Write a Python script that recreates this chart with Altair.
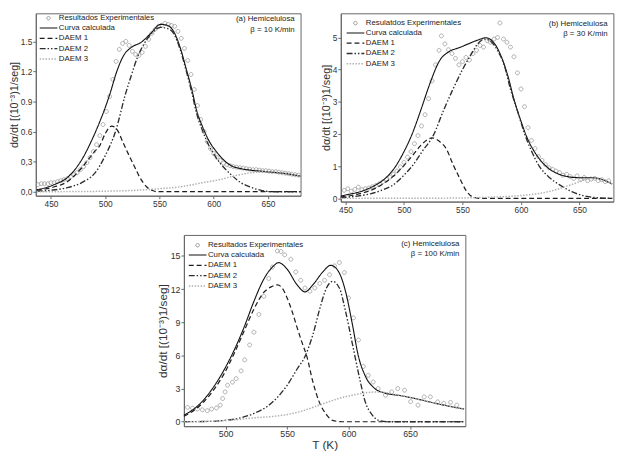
import altair as alt
import pandas as pd

FONT = "Liberation Sans"
Y_TITLE = "dα/dt [(10⁻³)1/seg]"

NAMES_A = ["Resultados Experimentales", "Curva calculada", "DAEM 1", "DAEM 2", "DAEM 3"]
NAMES_B = ["Resulatdos Experimentales", "Curva calculada", "DAEM 1", "DAEM 2", "DAEM 3"]
NAMES_C = ["Resultados Experimentales", "Curva calculada", "DAEM 1", "DAEM 2", "DAEM 3"]

# ---------------- panel (a) beta = 10 K/min ----------------
A_EXP_T = [438, 441, 444, 447, 450, 453, 456, 459, 462, 465, 468, 471, 474, 477, 480, 483, 486, 489, 492, 495,
           498, 501, 504, 507, 510, 513, 516, 519, 522, 525, 528, 531, 534, 537, 540, 543, 546, 549, 552, 555,
           558, 561, 564, 567, 570, 573, 576, 579, 582, 585, 588, 591, 594, 597, 600, 603, 606, 609, 612, 615,
           618, 621, 624, 627, 630, 633, 636, 639, 642, 645, 648, 651, 654, 657, 660, 663, 666, 669, 672, 675, 678]
A_EXP_V = [0.07, 0.08, 0.08, 0.08, 0.09, 0.09, 0.10, 0.11, 0.12, 0.13, 0.15, 0.17, 0.19, 0.22, 0.25, 0.29, 0.34, 0.40, 0.47, 0.56,
           0.67, 0.80, 0.95, 1.12, 1.30, 1.42, 1.48, 1.50, 1.46, 1.40, 1.37, 1.36, 1.39, 1.45, 1.52, 1.58, 1.62, 1.65, 1.66, 1.68,
           1.67, 1.66, 1.65, 1.60, 1.53, 1.43, 1.31, 1.17, 1.02, 0.86, 0.72, 0.60, 0.50, 0.43, 0.38, 0.34, 0.31, 0.285, 0.27, 0.26,
           0.25, 0.245, 0.24, 0.235, 0.23, 0.225, 0.22, 0.22, 0.215, 0.21, 0.21, 0.205, 0.20, 0.20, 0.195, 0.19, 0.185, 0.18, 0.175, 0.17, 0.165]
A_CALC_T = [437, 445, 455, 465, 472, 480, 487, 495, 500, 505, 510, 517, 524, 533, 542, 551, 557, 563, 569, 575,
            580, 584, 590, 596, 601, 607, 616, 625, 634, 648, 663, 680]
A_CALC_V = [0.02, 0.04, 0.08, 0.14, 0.22, 0.35, 0.50, 0.70, 0.84, 1.00, 1.18, 1.36, 1.44, 1.49, 1.58, 1.67, 1.66, 1.60, 1.44, 1.21,
            1.01, 0.82, 0.64, 0.50, 0.42, 0.34, 0.26, 0.23, 0.215, 0.20, 0.185, 0.155]
A_D1_T = [437, 450, 465, 480, 490, 495, 500, 506, 512, 516, 522, 527, 532, 538, 543, 548, 560, 680]
A_D1_V = [0.015, 0.04, 0.10, 0.26, 0.40, 0.46, 0.58, 0.655, 0.60, 0.50, 0.36, 0.25, 0.14, 0.05, 0.015, 0.0, 0.0, 0.0]
A_D2_T = [437, 450, 465, 480, 490, 500, 510, 518, 524, 530, 536, 542, 551, 557, 563, 569, 575, 580, 584, 590,
          596, 601, 607, 616, 625, 634, 643, 655, 680]
A_D2_V = [0.005, 0.015, 0.04, 0.10, 0.18, 0.36, 0.62, 0.95, 1.16, 1.35, 1.48, 1.57, 1.64, 1.63, 1.58, 1.42, 1.19, 0.98, 0.79, 0.60,
          0.45, 0.36, 0.27, 0.17, 0.09, 0.045, 0.015, 0.0, 0.0]
A_D3_T = [437, 480, 500, 530, 550, 570, 590, 605, 620, 635, 650, 665, 680]
A_D3_V = [0.0, 0.002, 0.005, 0.015, 0.03, 0.05, 0.09, 0.12, 0.16, 0.19, 0.20, 0.185, 0.155]

# ---------------- panel (b) beta = 30 K/min ----------------
B_EXP_T = [449, 452, 455, 458, 461, 464, 467, 470, 473, 476, 479, 482, 485, 488, 491, 494, 497, 500, 503, 506,
           509, 512, 515, 518, 521, 524, 527, 530, 532, 535, 538, 541, 544, 547, 550, 553, 556, 559, 562, 565,
           568, 571, 574, 577, 580, 582, 585, 588, 591, 594, 597, 600, 603, 606, 609, 612, 615, 618, 621, 624,
           627, 630, 633, 636, 639, 642, 645, 648, 651, 654, 657, 660, 663, 666, 669, 672, 675]
B_EXP_V = [0.25, 0.30, 0.22, 0.28, 0.35, 0.27, 0.30, 0.32, 0.36, 0.40, 0.45, 0.52, 0.60, 0.66, 0.75, 0.85, 0.98, 1.12, 1.28, 1.45,
           1.70, 1.95, 2.25, 2.60, 3.10, 3.65, 4.15, 4.60, 5.05, 4.80, 4.62, 4.50, 4.35, 4.15, 4.25, 4.38, 4.30, 4.50, 4.60, 4.75,
           4.70, 4.90, 4.85, 4.95, 5.00, 5.45, 4.95, 4.85, 4.70, 4.40, 3.90, 3.40, 2.85, 2.20, 1.80, 1.55, 1.30, 1.18, 1.05, 0.95,
           0.90, 0.85, 0.80, 0.72, 0.75, 0.68, 0.62, 0.70, 0.58, 0.65, 0.55, 0.60, 0.62, 0.55, 0.58, 0.52, 0.55]
B_CALC_T = [446, 452, 460, 468, 476, 484, 492, 500, 507, 514, 522, 530, 539, 547, 555, 564, 570, 578, 583, 589,
            594, 600, 606, 612, 618, 624, 630, 637, 645, 653, 661, 668, 673, 678]
B_CALC_V = [0.07, 0.12, 0.18, 0.28, 0.42, 0.62, 0.95, 1.45, 2.0, 2.7, 3.55, 4.25, 4.57, 4.68, 4.80, 4.93, 4.99, 4.78, 4.42, 3.78,
            3.08, 2.40, 1.82, 1.42, 1.13, 0.92, 0.79, 0.70, 0.65, 0.64, 0.64, 0.60, 0.53, 0.45]
B_D1_T = [446, 455, 465, 478, 490, 500, 508, 514, 519, 524, 530, 536, 542, 548, 553, 558, 565, 678]
B_D1_V = [0.05, 0.09, 0.17, 0.36, 0.66, 1.02, 1.36, 1.63, 1.80, 1.88, 1.78, 1.55, 1.05, 0.60, 0.25, 0.06, 0.0, 0.0]
B_D2_T = [446, 460, 472, 480, 490, 500, 508, 516, 525, 534, 542, 550, 557, 563, 569, 575, 580, 586, 591, 597,
          603, 609, 616, 624, 633, 644, 655, 665, 678]
B_D2_V = [0.02, 0.07, 0.15, 0.24, 0.40, 0.72, 1.05, 1.48, 1.95, 2.75, 3.40, 4.0, 4.45, 4.80, 4.95, 4.85, 4.60, 4.10, 3.40, 2.72,
          2.02, 1.47, 0.98, 0.66, 0.42, 0.20, 0.07, 0.02, 0.0]
B_D3_T = [446, 520, 560, 580, 600, 615, 630, 644, 655, 663, 670, 678]
B_D3_V = [0.0, 0.005, 0.02, 0.045, 0.09, 0.15, 0.27, 0.44, 0.58, 0.63, 0.58, 0.45]

# ---------------- panel (c) beta = 100 K/min ----------------
C_EXP_T = [469, 473, 477, 481, 485, 488.5, 492.5, 495.5, 497.5, 499.5, 501.5, 505.5, 508.5, 512.5, 515.5, 519.5, 523, 527, 531, 535,
           538, 542, 545, 548, 553, 557, 561, 564.5, 568.5, 572.5, 576.5, 580.5, 584.5, 588.5, 592.5, 596.5, 600, 604, 608, 612,
           616, 620, 624, 630, 635, 640, 645.5, 650.5, 656.5, 661.5, 666.5, 672.5, 677.5, 683, 688]
C_EXP_V = [1.3, 1.23, 1.15, 1.08, 1.0, 1.15, 1.25, 1.5, 2.1, 2.7, 3.3, 3.58, 3.9, 4.6, 5.6, 6.95, 8.1, 9.7, 11.35, 12.96,
           14.0, 15.45, 15.4, 15.1, 14.7, 13.55, 12.8, 12.1, 11.8, 12.1, 12.5, 12.8, 13.3, 14.1, 14.4, 13.5, 11.2, 9.4, 7.4, 5.0,
           4.2, 3.6, 3.0, 2.4, 2.7, 3.0, 2.85, 1.82, 1.5, 2.25, 2.25, 1.8, 1.67, 1.76, 1.5]
C_CALC_T = [466, 475, 483, 491, 499, 507, 515, 523, 531, 539, 543, 550, 558, 564.5, 571, 579, 585.5, 592, 597.5, 603,
            608, 613.5, 621.5, 629.5, 643, 656, 669.5, 682, 694]
C_CALC_V = [0.6, 1.23, 2.1, 3.28, 4.75, 6.5, 8.56, 10.9, 12.9, 14.1, 14.4, 13.8, 12.4, 11.75, 12.4, 13.55, 14.15, 13.55, 11.8, 8.86,
            5.92, 4.16, 2.99, 2.6, 2.35, 2.05, 1.7, 1.4, 1.15]
C_D1_T = [466, 475, 483, 491, 499, 507, 515, 523, 531, 537, 542, 546, 550, 554, 558, 562, 566, 571, 576, 582, 587, 595, 694]
C_D1_V = [0.5, 1.1, 1.9, 3.0, 4.4, 6.2, 8.2, 10.2, 11.7, 12.2, 12.38, 12.1, 11.2, 10.0, 8.56, 7.2, 5.92, 3.58, 1.82, 0.65, 0.12, 0.0, 0.0]
C_D2_T = [466, 490, 497, 510, 523, 534, 542, 550, 558, 564.5, 571, 576.5, 582, 587, 592.5, 597.5, 603, 608.5, 613.5, 619,
          624.5, 632, 694]
C_D2_V = [0.0, 0.04, 0.1, 0.3, 0.75, 1.4, 2.2, 3.3, 4.75, 5.9, 7.9, 10.2, 12.1, 12.7, 12.1, 10.0, 7.1, 4.16, 1.82, 0.65,
          0.12, 0.0, 0.0]
C_D3_T = [466, 490, 505, 523, 540, 550, 563, 576, 592, 603, 616, 625, 632, 643, 656, 669.5, 682, 694]
C_D3_V = [0.0, 0.05, 0.15, 0.35, 0.5, 0.65, 1.0, 1.5, 2.1, 2.4, 2.65, 2.7, 2.6, 2.35, 2.05, 1.7, 1.4, 1.15]

# ---------------- styles ----------------
COLORS = ["#9a9a9a", "#111111", "#1e1e1e", "#2e2e2e", "#b0b0b0"]
DASHES = [[1, 0], [1, 0], [5, 3], [6, 2, 1.5, 2, 1.5, 2], [1.5, 1.5]]
WIDTHS = [1.0, 1.5, 1.3, 1.3, 1.2]
CIRCLE = "M-0.4,0A0.4,0.4,0,1,1,0.4,0A0.4,0.4,0,1,1,-0.4,0Z"
STROKE = "M-2,0H2"
SHAPES = [CIRCLE, STROKE, STROKE, STROKE, STROKE]


def panel(names, exp_t, exp_v, curves, xdom, xticks, ydom, yticks, width, height,
          note, legend_xy, note_y, note_lh, xtitle, label_expr, tick_fs, title_fs):
    pts = pd.DataFrame({"T": exp_t, "v": exp_v, "serie": names[0]})
    frames = []
    for name, (ts, vs) in zip(names[1:], curves):
        frames.append(pd.DataFrame({"T": ts, "v": vs, "serie": name}))
    lines = pd.concat(frames, ignore_index=True)

    x = alt.X("T:Q", scale=alt.Scale(domain=xdom, nice=False, zero=False),
              axis=alt.Axis(values=xticks, title=xtitle, tickSize=3, labelPadding=1,
                            labelFontSize=tick_fs, titleFontSize=title_fs, titlePadding=1, grid=False))
    ykw = dict(values=yticks, title=Y_TITLE, tickSize=3, labelPadding=1,
               labelFontSize=tick_fs, titleFontSize=title_fs, titlePadding=1, grid=False)
    if label_expr:
        ykw["labelExpr"] = label_expr
    y = alt.Y("v:Q", scale=alt.Scale(domain=ydom, nice=False, zero=False), axis=alt.Axis(**ykw))

    leg = alt.Legend(title=None, orient="none", legendX=legend_xy[0], legendY=legend_xy[1],
                     padding=0, labelFontSize=8, labelFont=FONT, labelColor="#222",
                     symbolSize=81, labelOffset=5, rowPadding=0.5, symbolStrokeWidth=1.2)
    colour = alt.Color("serie:N", scale=alt.Scale(domain=names, range=COLORS), legend=leg)
    shape = alt.Shape("serie:N", scale=alt.Scale(domain=names, range=SHAPES), legend=leg)
    dash = alt.StrokeDash("serie:N", scale=alt.Scale(domain=names, range=DASHES), legend=leg)
    sw = alt.StrokeWidth("serie:N", scale=alt.Scale(domain=names, range=WIDTHS), legend=None)

    points = alt.Chart(pts).mark_point(filled=False, opacity=1, size=100, strokeWidth=0.8).encode(
        x=x, y=y, color=colour, shape=shape)
    curves_layer = alt.Chart(lines).mark_line(interpolate="monotone").encode(
        x=x, y=y, color=colour, strokeDash=dash, strokeWidth=sw)
    ann = alt.Chart(pd.DataFrame({"label": [note]})).mark_text(
        align="right", baseline="top", lineBreak="\n", lineHeight=note_lh, fontSize=8,
        font=FONT, color="#222").encode(text="label:N", x=alt.value(width - 6), y=alt.value(note_y))
    return alt.layer(points, curves_layer, ann).properties(width=width, height=height)


COMMA_EXPR = "datum.value < 0.45 ? replace(format(datum.value, '.1f'), '.', ',') : format(datum.value, '.1f')"

pa = panel(NAMES_A, A_EXP_T, A_EXP_V,
           [(A_CALC_T, A_CALC_V), (A_D1_T, A_D1_V), (A_D2_T, A_D2_V), (A_D3_T, A_D3_V)],
           [436, 680], [450, 500, 550, 600, 650], [-0.04, 1.78], [0, 0.3, 0.6, 0.9, 1.2, 1.5],
           270, 186, "(a) Hemicelulosa\nβ = 10 K/min", (7.5, 0), 1.5, 11.5, None, COMMA_EXPR, 8.5, 11)
pb = panel(NAMES_B, B_EXP_T, B_EXP_V,
           [(B_CALC_T, B_CALC_V), (B_D1_T, B_D1_V), (B_D2_T, B_D2_V), (B_D3_T, B_D3_V)],
           [446, 679], [450, 500, 550, 600, 650], [-0.1, 5.75], [0, 1, 2, 3, 4, 5],
           278, 192, "(b) Hemicelulosa\nβ = 30 K/min", (9.5, 5), 6.5, 10.5, None, None, 8.5, 11)
pc = panel(NAMES_C, C_EXP_T, C_EXP_V,
           [(C_CALC_T, C_CALC_V), (C_D1_T, C_D1_V), (C_D2_T, C_D2_V), (C_D3_T, C_D3_V)],
           [466, 695], [500, 550, 600, 650], [-0.4, 16.9], [0, 3, 6, 9, 12, 15],
           287, 195, "(c) Hemicelulosa\nβ = 100 K/min", (8.5, 5.5), 5.5, 10, "T (K)", None, 9, 12)

RES = dict(color="independent", shape="independent", strokeDash="independent", strokeWidth="independent")

row1 = alt.hconcat(pa, pb, spacing=15).resolve_scale(**RES)
chart = alt.vconcat(row1, pc, spacing=20, center=True).resolve_scale(**RES).properties(
    padding={"left": 0, "top": 0, "right": 0, "bottom": 0}
).configure_view(stroke="#666", strokeWidth=1).configure_axis(
    labelFont=FONT, titleFont=FONT, labelColor="#333", titleColor="#333",
    domainColor="#666", tickColor="#666", titleFontWeight="normal"
)

chart.save("out.html", embed_options={"renderer": "svg", "actions": False})
